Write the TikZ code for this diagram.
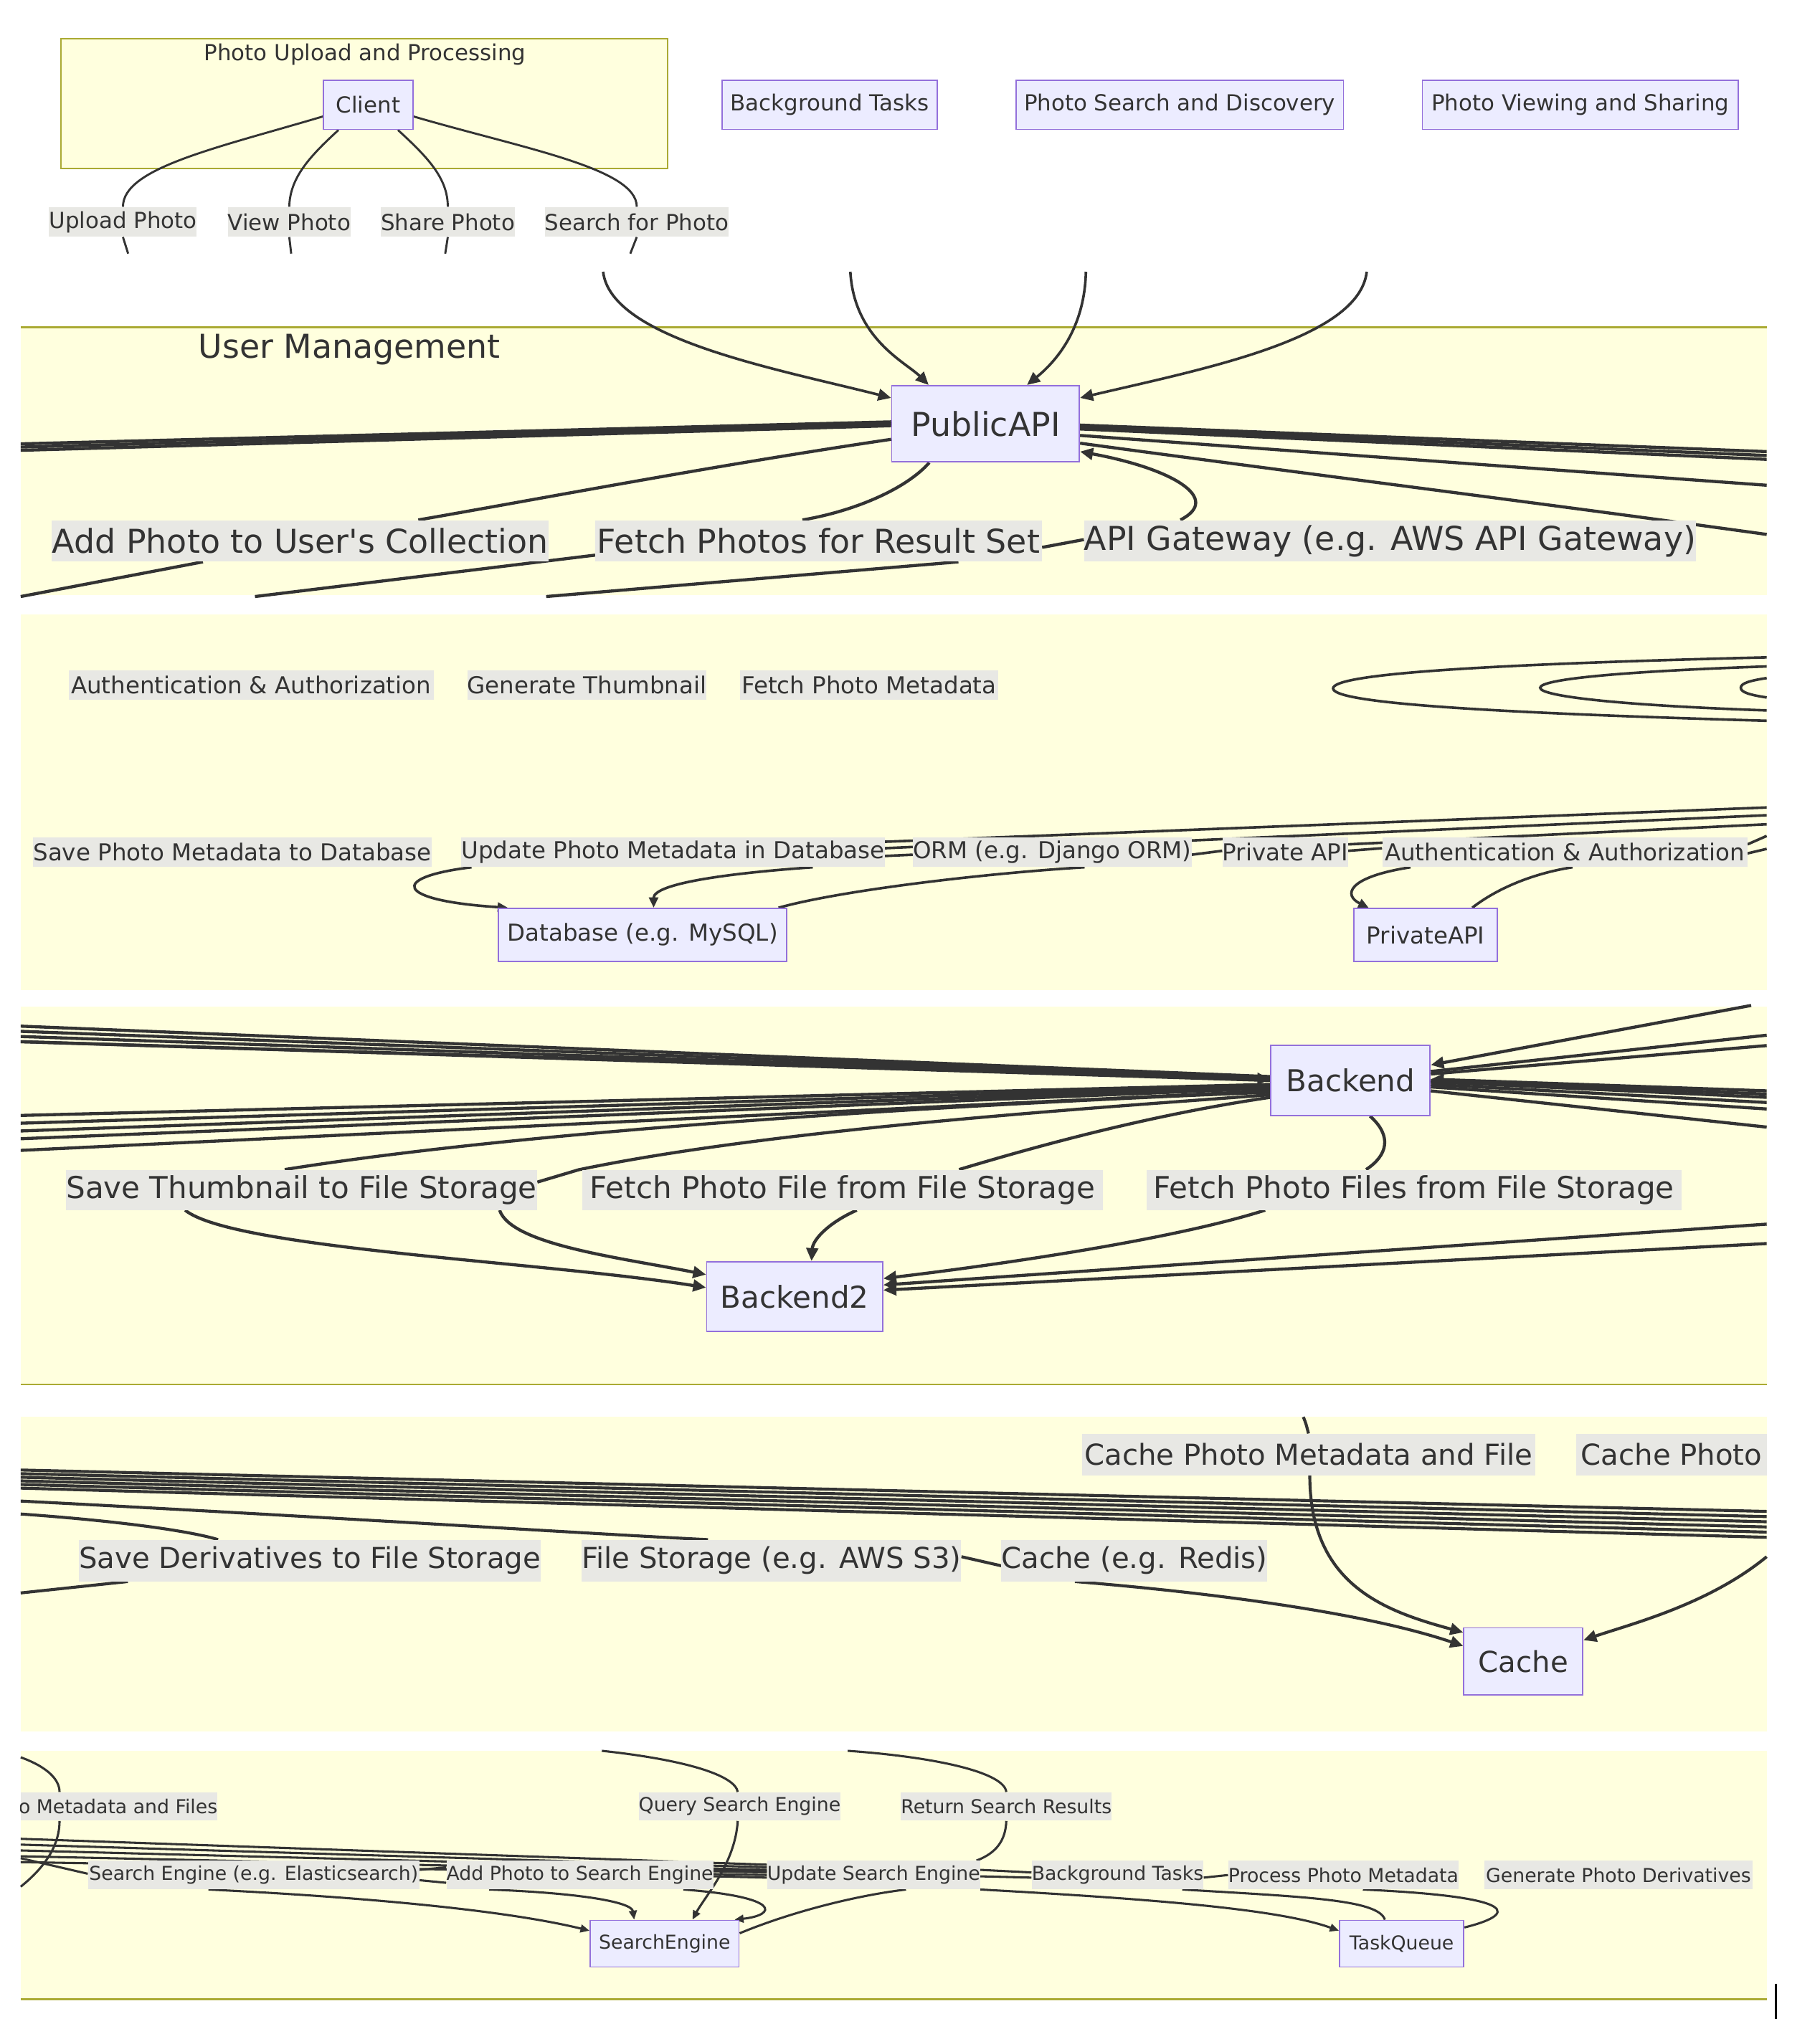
\documentclass[tikz,border=0pt]{standalone}
\usepackage{fontspec}
\setmainfont{DejaVu Sans}[Ligatures=TeXOff]
\usetikzlibrary{arrows.meta}
\definecolor{nodefill}{HTML}{ECECFF}
\definecolor{nodeborder}{HTML}{9370DB}
\definecolor{clusterfill}{HTML}{FFFFDE}
\definecolor{clusterborder}{HTML}{AAAA33}
\definecolor{edgec}{HTML}{333333}
\definecolor{labelbg}{HTML}{E8E8E4}
\definecolor{txt}{HTML}{333333}
\newcommand\fsA{\fontsize{17.1}{20}\selectfont}
\newcommand\fsB{\fontsize{25.4}{30}\selectfont}
\newcommand\fsC{\fontsize{18}{21}\selectfont}
\newcommand\fsD{\fontsize{23.3}{27}\selectfont}
\newcommand\fsE{\fontsize{22.3}{26}\selectfont}
\newcommand\fsF{\fontsize{14.8}{17}\selectfont}
\newcommand\mkND[7]{\node[box,font=#1,minimum width={(#4-#3)*1pt},minimum height={(#6-#5)*1pt}] (#2) at ({(#3+#4)/2},{(#5+#6)/2}) {#7};}
\newcommand\mkLB[7]{\node[lab,font=#1,minimum width={(#4-#3)*1pt},minimum height={(#6-#5)*1pt}] (#2) at ({(#3+#4)/2},{(#5+#6)/2}) {#7};}
\pgfdeclarelayer{bg}
\pgfdeclarelayer{edges}
\pgfsetlayers{bg,edges,main}
\begin{document}
\begin{tikzpicture}[x=1pt,y=-1pt,
  box/.style={draw=nodeborder,fill=nodefill,line width=1pt,inner sep=0pt,text=txt},
  lab/.style={fill=labelbg,inner sep=0pt,text=txt},
  tipS/.style={-{Triangle[length=7pt,width=6pt]}},
  tipM/.style={-{Triangle[length=8pt,width=7pt]}},
  tipL/.style={-{Triangle[length=10pt,width=9pt]}},
  strip/.style={fill=clusterfill},
  cline/.style={draw=clusterborder,line width=1.3pt}]
\useasboundingbox (0,0) rectangle (1406,1568);

% ---------- top area ----------
\node[text=txt,font=\fsA,inner sep=0pt] (t_title) at (282,42) {Photo Upload and Processing};
\mkND{\fsA}{client}{250}{319}{62}{100}{Client}
\mkND{\fsA}{bgtasks}{558}{724}{62}{100}{Background Tasks}
\mkND{\fsA}{psd}{785}{1038}{62}{100}{Photo Search and Discovery}
\mkND{\fsA}{pvs}{1099}{1343}{62}{100}{Photo Viewing and Sharing}
\mkLB{\fsA}{lup}{38}{152}{160}{183}{Upload Photo}
\mkLB{\fsA}{lview}{176}{271}{160}{183}{View Photo}
\mkLB{\fsA}{lshare}{295}{397}{160}{183}{Share Photo}
\mkLB{\fsA}{lsearch}{421}{563}{160}{183}{Search for Photo}

% ---------- strip 1: User Management ----------
\node[text=txt,font=\fsB,inner sep=0pt] (um_title) at (270,270) {User Management};
\mkND{\fsB}{pub}{689}{834}{298}{357}{PublicAPI}
\mkLB{\fsB}{ladd}{40}{424}{402}{434}{Add Photo to User's Collection}
\mkLB{\fsB}{lfetch}{460}{805}{402}{434}{Fetch Photos for Result Set}
\mkLB{\fsB}{lapigw}{840}{1308}{402}{434}{API Gateway (e.g. AWS API Gateway)}

% ---------- strip 2 ----------
\mkLB{\fsC}{lauth1}{53}{335}{518}{541}{Authentication \& Authorization}
\mkLB{\fsC}{lgen}{361}{546}{518}{541}{Generate Thumbnail}
\mkLB{\fsC}{lfpm}{572}{771}{518}{541}{Fetch Photo Metadata}
\mkLB{\fsC}{lsave}{28}{331}{647}{670}{Save Photo Metadata to Database}
\mkLB{\fsC}{lupd}{358}{682}{647}{670}{Update Photo Metadata in Database}
\mkLB{\fsC}{lorm}{708}{918}{647}{670}{ORM (e.g. Django ORM)}
\mkLB{\fsC}{lpriv}{945}{1041}{647}{670}{Private API}
\mkLB{\fsC}{lauth2}{1068}{1350}{647}{670}{Authentication \& Authorization}
\mkND{\fsC}{db}{385}{608}{702}{743}{Database (e.g. MySQL)}
\mkND{\fsC}{priv}{1046}{1157}{702}{743}{PrivateAPI}

% ---------- strip 3 ----------
\mkND{\fsD}{backend}{982}{1105}{808}{862}{Backend}
\mkND{\fsD}{be2}{546}{682}{975}{1029}{Backend2}
\mkLB{\fsD}{lthumb}{51}{415}{904}{935}{Save Thumbnail to File Storage}
\mkLB{\fsD}{lfpf}{450}{852}{904}{935}{Fetch Photo File from File Storage}
\mkLB{\fsD}{lfpfs}{886}{1299}{904}{935}{Fetch Photo Files from File Storage}

% ---------- strip 4 ----------
\mkLB{\fsE}{lcpmf}{836}{1186}{1108}{1140}{Cache Photo Metadata and File}
\mkLB{\fsE}{lcp}{1218}{1365}{1108}{1140}{Cache Photo}
\mkLB{\fsE}{lderiv}{61}{418}{1190}{1222}{Save Derivatives to File Storage}
\mkLB{\fsE}{lfs}{451}{741}{1190}{1222}{File Storage (e.g. AWS S3)}
\mkLB{\fsE}{lcr}{774}{979}{1190}{1222}{Cache (e.g. Redis)}
\mkND{\fsE}{cache}{1131}{1223}{1258}{1310}{Cache}

% ---------- strip 5 ----------
\begin{scope}
\clip (16,1370) rectangle (1365,1420);
\node[lab,font=\fsF,minimum width=152pt,minimum height=22pt] (lmf) at (92,1396) {\makebox[152pt][r]{Photo Metadata and Files}};
\end{scope}
\mkLB{\fsF}{lqse}{494}{649}{1385}{1407}{Query Search Engine}
\mkLB{\fsF}{lrsr}{696}{859}{1385}{1407}{Return Search Results}
\mkLB{\fsF}{lseel}{68}{324}{1438}{1460}{Search Engine (e.g. Elasticsearch)}
\mkLB{\fsF}{lapse}{345}{551}{1438}{1460}{Add Photo to Search Engine}
\mkLB{\fsF}{luse}{593}{757}{1438}{1460}{Update Search Engine}
\mkLB{\fsF}{lbt}{798}{929}{1438}{1460}{Background Tasks}
\mkLB{\fsF}{lppm}{949}{1127}{1438}{1460}{Process Photo Metadata}
\mkLB{\fsF}{lgpd}{1147}{1354}{1438}{1460}{Generate Photo Derivatives}
\mkND{\fsF}{se}{456}{571}{1484}{1520}{SearchEngine}
\mkND{\fsF}{tq}{1035}{1131}{1484}{1520}{TaskQueue}

% ---------- backgrounds ----------
\begin{pgfonlayer}{bg}
\fill[white] (0,0) rectangle (1406,1568);
\filldraw[fill=clusterfill,draw=clusterborder,line width=1.2pt] (47,30) rectangle (516,130);
\fill[strip] (16,253) rectangle (1365,460);
\draw[cline] (16,253) -- (1365,253);
\fill[strip] (16,475) rectangle (1365,765);
\fill[strip] (16,778) rectangle (1365,1070);
\draw[cline] (16,1070) -- (1365,1070);
\fill[strip] (16,1095) rectangle (1365,1338);
\fill[strip] (16,1353) rectangle (1365,1545);
\draw[cline] (16,1545) -- (1365,1545);
\end{pgfonlayer}

% ---------- edges ----------
\begin{pgfonlayer}{edges}
% top
\begin{scope}[edgec,line width=1.6pt]
\draw ([yshift=-9pt]client.west) .. controls (165,115) and (95,130) .. (lup.north);
\draw ([xshift=12pt]client.south west) .. controls (238,122) and (224,138) .. (lview.north);
\draw ([xshift=-12pt]client.south east) .. controls (331,122) and (346,138) .. (lshare.north);
\draw ([yshift=-9pt]client.east) .. controls (405,115) and (492,130) .. (lsearch.north);
\coordinate (t1) at (99,196); \coordinate (t2) at (225,196);
\coordinate (t3) at (344,196); \coordinate (t4) at (487,196);
\draw (lup.south) -- (t1); \draw (lview.south) -- (t2);
\draw (lshare.south) -- (t3); \draw (lsearch.south) -- (t4);
\end{scope}
% strip 1
\begin{scope}[edgec,line width=2pt]
\coordinate (t5) at (466,210); \coordinate (t6) at (657,210);
\coordinate (t7) at (839,210); \coordinate (t8) at (1056,210);
\draw[tipL] (t5) .. controls (472,262) and (600,285) .. ([yshift=-10pt]pub.north west);
\draw[tipL] (t6) .. controls (660,262) and (700,280) .. ([xshift=29pt]pub.north west);
\draw[tipL] (t7) .. controls (838,255) and (815,280) .. ([xshift=-41pt]pub.north east);
\draw[tipL] (t8) .. controls (1050,262) and (930,285) .. ([yshift=-10pt]pub.north east);
\end{scope}
\begin{scope}[edgec,line width=2.4pt]
\coordinate (u1) at (16,343); \coordinate (u2) at (16,345.5); \coordinate (u3) at (16,348);
\draw (u1) -- ([yshift=1.5pt]pub.west);
\draw (u2) -- (pub.west);
\draw (u3) -- ([yshift=-1.5pt]pub.west);
\draw ([yshift=-12pt]pub.west) .. controls (550,360) and (420,385) .. ([xshift=-101pt]ladd.north east);
\draw ([xshift=-43.5pt]pub.south) .. controls (700,378) and (660,395) .. ([xshift=-12.5pt]lfetch.north);
\draw[tipL] ([xshift=-162pt]lapigw.north) .. controls (945,385) and (905,362) .. ([yshift=-21.5pt]pub.east);
\draw ([yshift=-5pt]lfetch.east) -- ([yshift=1pt]lapigw.west);
\coordinate (u4) at (16,461); \coordinate (u5) at (197,461); \coordinate (u6) at (422,461);
\draw ([xshift=117pt]ladd.south west) -- (u4);
\draw ([yshift=-11pt]lfetch.west) -- (u5);
\draw ([xshift=108pt]lfetch.south) -- (u6);
\coordinate (u7) at (1365,349); \coordinate (u8) at (1365,352); \coordinate (u9) at (1365,355);
\coordinate (u10) at (1365,375); \coordinate (u11) at (1365,413);
\draw ([yshift=-1pt]pub.east) -- (u7);
\draw ([yshift=-2.5pt]pub.east) -- (u8);
\draw ([yshift=-4pt]pub.east) -- (u9);
\draw ([yshift=-9pt]pub.east) -- (u10);
\draw ([yshift=-15pt]pub.east) .. controls (1000,365) and (1200,390) .. (u11);
\end{scope}
% strip 2
\begin{scope}[edgec,line width=2pt]
\coordinate (r1a) at (1365,508); \coordinate (r1b) at (1365,557);
\coordinate (r2a) at (1365,515); \coordinate (r2b) at (1365,549);
\coordinate (r3a) at (1365,524); \coordinate (r3b) at (1365,539);
\draw (r1a) .. controls (1120,514) and (1030,522) .. (1030,532) .. controls (1030,542) and (1120,550) .. (r1b);
\draw (r2a) .. controls (1250,519) and (1190,525) .. (1190,531.5) .. controls (1190,538) and (1250,545) .. (r2b);
\draw (r3a) .. controls (1352,526) and (1345,528) .. (1345,531.5) .. controls (1345,535) and (1352,537) .. (r3b);
\draw[tipM] ([xshift=8pt]lupd.south west) .. controls (300,678) and (305,696) .. ([xshift=8pt]db.north west);
\draw[tipM] ([xshift=108pt]lupd.south) .. controls (560,675) and (505,683) .. ([xshift=8.5pt]db.north);
\draw ([xshift=-7pt]db.north east) .. controls (650,688) and (760,675) .. ([xshift=25pt]lorm.south);
\coordinate (r4) at (1365,624); \coordinate (r5) at (1365,630);
\coordinate (r6) at (1365,637); \coordinate (r7) at (1365,646); \coordinate (r8) at (1365,656);
\draw (r4) -- ([yshift=8pt]lupd.east);
\draw (r5) -- ([yshift=9pt]lorm.east);
\draw (r6) -- ([yshift=6pt]lpriv.east);
\draw (r7) -- ([yshift=6pt]lauth2.east);
\draw ([yshift=-1pt]lauth2.east) -- (r8);
\draw ([yshift=3pt]lupd.east) -- ([yshift=4pt]lorm.west);
\draw ([yshift=-3pt]lupd.east) -- ([yshift=-2pt]lorm.west);
\draw ([yshift=-2pt]lorm.east) -- ([yshift=1pt]lpriv.west);
\draw ([yshift=1pt]lpriv.east) -- ([yshift=3pt]lauth2.west);
\draw[tipM] ([xshift=22pt]lauth2.south west) .. controls (1040,678) and (1038,692) .. ([xshift=12pt]priv.north west);
\draw ([xshift=-20pt]priv.north east) .. controls (1160,684) and (1190,674) .. ([xshift=6pt]lauth2.south);
\end{scope}
% strip 3
\begin{scope}[edgec,line width=2.4pt]
\foreach \i/\a/\b in {0/793/832,1/797/833,2/801/834,3/805/835}{
  \coordinate (ba\i) at (16,\a);
  \draw (ba\i) -- (982,\b);}
\draw[tipL] (ba3) -- ([yshift=1pt]backend.west);
\foreach \i/\a/\b in {0/862/838,1/868/839,2/874/840,3/880/841,4/889/843}{
  \coordinate (bb\i) at (16,\a);
  \draw (bb\i) -- ([yshift={835-\b}]backend.west);}
\draw ([xshift=-13pt]lthumb.north) .. controls (400,875) and (700,855) .. ([yshift=-9pt]backend.west);
\draw ([yshift=6pt]lthumb.east) -- (447,904) .. controls (600,872) and (850,856) .. ([yshift=-11pt]backend.west);
\draw ([xshift=90pt]lfpf.north) .. controls (820,880) and (900,860) .. ([yshift=-13pt]backend.west);
\coordinate (bc0) at (1353,777); \coordinate (bc1) at (1365,800); \coordinate (bc2) at (1365,808);
\coordinate (bc3) at (1365,843); \coordinate (bc4) at (1365,845.5); \coordinate (bc5) at (1365,848);
\coordinate (bc6) at (1365,852); \coordinate (bc7) at (1365,857); \coordinate (bc8) at (1365,871);
\draw[tipL] (bc0) -- ([yshift=12pt]backend.east);
\draw (bc1) -- ([yshift=7pt]backend.east);
\draw (bc2) -- ([yshift=5pt]backend.east);
\draw[tipL] (bc3) -- ([yshift=1pt]backend.east);
\draw (bc4) -- (backend.east);
\draw (bc5) -- ([yshift=-1pt]backend.east);
\draw (bc6) -- ([yshift=-3pt]backend.east);
\draw (bc7) -- ([yshift=-5pt]backend.east);
\draw (bc8) -- ([yshift=-8pt]backend.east);
\draw ([xshift=15pt]backend.south) .. controls (1076,878) and (1072,893) .. ([xshift=-37pt]lfpfs.north);
\draw[tipL] ([xshift=-90pt]lthumb.south) .. controls (180,965) and (420,975) .. ([yshift=7pt]be2.west);
\draw[tipL] ([xshift=153pt]lthumb.south) .. controls (395,962) and (480,972) .. ([yshift=17pt]be2.west);
\draw[tipL] ([xshift=11pt]lfpf.south) .. controls (640,945) and (628,958) .. ([xshift=13pt]be2.north);
\draw[tipL] ([xshift=-115pt]lfpfs.south) .. controls (900,960) and (750,980) .. ([yshift=14pt]be2.east);
\coordinate (bd0) at (1365,946); \coordinate (bd1) at (1365,961);
\draw[tipL] (bd0) -- ([yshift=9pt]be2.east);
\draw[tipL] (bd1) -- ([yshift=5pt]be2.east);
\end{scope}
% strip 4
\begin{scope}[edgec,line width=2.3pt]
\foreach \i in {0,...,5}{
  \coordinate (ca\i) at (16,{1136+2.8*\i});
  \coordinate (cb\i) at (1365,{1168+4*\i});
  \draw (ca\i) -- (cb\i);}
\coordinate (cc0) at (16,1160); \coordinate (cc1) at (16,1170); \coordinate (cc2) at (16,1231);
\draw (cc0) .. controls (250,1172) and (450,1185) .. ([xshift=-49pt]lfs.north);
\draw (cc1) .. controls (100,1176) and (150,1184) .. ([xshift=-71pt]lderiv.north);
\draw ([xshift=38pt]lderiv.south west) -- (cc2);
\draw ([yshift=3pt]lfs.east) -- ([yshift=-4pt]lcr.west);
\draw[tipL] ([xshift=-46pt]lcr.south) .. controls (950,1232) and (1060,1248) .. ([yshift=12pt]cache.west);
\coordinate (cd0) at (1007,1095);
\draw (cd0) .. controls (1009,1100) .. (lcpmf.north);
\draw[tipL] ([xshift=1pt]lcpmf.south) .. controls (1012,1225) and (1070,1245) .. ([yshift=-4pt]cache.north west);
\coordinate (cd1) at (1365,1203);
\draw[tipL] (cd1) .. controls (1320,1240) and (1260,1255) .. ([yshift=-10pt]cache.north east);
\end{scope}
% strip 5
\begin{scope}[edgec,line width=1.7pt]
\coordinate (s1) at (16,1358); \coordinate (s1e) at (16,1458);
\draw (s1) .. controls (38,1366) and (46,1376) .. ([xshift=-46pt]lmf.north);
\draw ([xshift=-46pt]lmf.south) .. controls (46,1425) and (36,1442) .. (s1e);
\coordinate (s2) at (465,1353); \coordinate (s3) at (655,1353);
\draw (s2) .. controls (530,1360) and (568,1372) .. ([xshift=-1.5pt]lqse.north);
\draw[tipS] ([xshift=-1.5pt]lqse.south) .. controls (568,1440) and (545,1465) .. ([xshift=21.5pt]se.north);
\draw (s3) .. controls (725,1358) and (776,1370) .. (lrsr.north);
\draw (lrsr.south) .. controls (777,1422) and (770,1432) .. ([xshift=-3pt]luse.north east);
\draw ([yshift=8pt]se.east) .. controls (610,1478) and (660,1465) .. ([xshift=25pt]luse.south);
\foreach \i in {0,...,4}{
  \coordinate (sa\i) at (16,{1421+4.5*\i});
  \draw (sa\i) -- ([yshift={8-2*\i}]luse.west);}
\coordinate (sb) at (16,1436);
\draw (sb) -- ([yshift=1pt]lseel.west);
\draw ([yshift=4pt]lseel.east) -- ([yshift=6pt]lapse.west);
\draw ([yshift=-4pt]lseel.east) -- ([yshift=-6pt]lapse.west);
\draw ([yshift=4pt]lapse.east) -- ([yshift=3pt]luse.west);
\draw ([yshift=-1pt]lapse.east) -- ([yshift=-2pt]luse.west);
\draw ([yshift=4pt]luse.east) -- ([yshift=2pt]lbt.west);
\draw ([yshift=-1pt]luse.east) -- ([yshift=-2pt]lbt.west);
\draw ([yshift=-2pt]lbt.east) -- (lppm.west);
\draw[tipS] ([xshift=-35pt]lseel.south) .. controls (280,1466) and (390,1476) .. ([yshift=10pt]se.west);
\draw[tipS] ([xshift=-70pt]lapse.south) .. controls (450,1463) and (488,1470) .. ([xshift=-23.5pt]se.north);
\draw[tipS] ([xshift=80pt]lapse.south) .. controls (605,1466) and (600,1480) .. ([xshift=-4pt]se.north east);
\draw[tipS] (luse.south east) .. controls (900,1468) and (990,1476) .. ([yshift=10pt]tq.west);
\draw ([xshift=50pt]lbt.south) .. controls (1010,1466) and (1065,1468) .. ([xshift=-13pt]tq.north);
\draw ([xshift=15pt]lppm.south) .. controls (1180,1466) and (1170,1480) .. ([yshift=-6pt]tq.north east);
\end{scope}
\coordinate (cur0) at (1372,1533); \coordinate (cur1) at (1372,1560);
\draw[black,line width=1.6pt] (cur0) -- (cur1);
\end{pgfonlayer}
\end{tikzpicture}
\end{document}
